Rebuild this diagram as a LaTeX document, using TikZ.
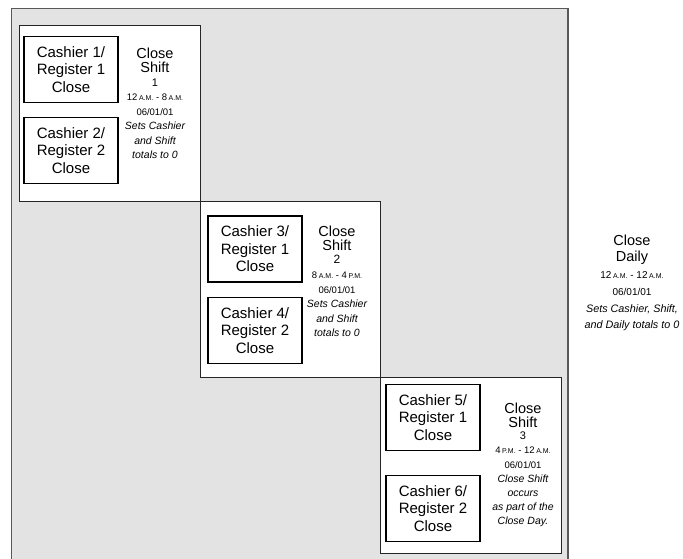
\documentclass[tikz,border=0pt]{standalone}
\usepackage{fontspec}
\setmainfont{Liberation Sans}
\newcommand\amtxt{{\fontsize{7}{7}\selectfont A.M.}}
\newcommand\pmtxt{{\fontsize{7}{7}\selectfont P.M.}}
\newcommand\bigline[1]{{\fontsize{14.5}{15}\selectfont #1}}
\newcommand\numline[1]{{\fontsize{10.5}{13}\selectfont #1}}
\newcommand\itline[1]{{\fontsize{10.5}{14}\selectfont\itshape #1}}
\begin{document}
\begin{tikzpicture}[x=1pt,y=-1pt,
  region/.style={draw=black!65, fill=black!11, line width=1.8pt},
  shiftbox/.style={draw=black!85, fill=white, line width=1pt, inner sep=0pt, anchor=north west},
  cashbox/.style={draw=black, line width=1.3pt, minimum width=94pt, minimum height=66pt, inner sep=0pt,
    align=center, font=\fontsize{15}{17.5}\selectfont},
  info/.style={align=center, inner sep=0pt, anchor=north, font=\fontsize{9.5}{14.5}\selectfont}]
\useasboundingbox (0,0) rectangle (683,559);
\path[region] (11.5,8.5) rectangle (568,570);
\node[shiftbox, minimum width=181pt, minimum height=176pt] (s1) at (19,25) {};
\node[shiftbox, minimum width=180pt, minimum height=176pt] (s2) at (200,201) {};
\node[shiftbox, minimum width=181pt, minimum height=176pt] (s3) at (380,377) {};
\node[cashbox] (c1) at (71,69.5) {Cashier 1/\\Register 1\\Close};
\node[cashbox] (c2) at (71,150.5) {Cashier 2/\\Register 2\\Close};
\node[cashbox] (c3) at (255,249) {Cashier 3/\\Register 1\\Close};
\node[cashbox] (c4) at (255,330.5) {Cashier 4/\\Register 2\\Close};
\node[cashbox] (c5) at (433,417.5) {Cashier 5/\\Register 1\\Close};
\node[cashbox] (c6) at (433,508.5) {Cashier 6/\\Register 2\\Close};
\node[info] (t1) at (155,47.5) {\bigline{Close}\\\bigline{Shift}\\[-1pt]{\fontsize{11}{13}\selectfont 1}\\12\,\amtxt\ -\ 8\,\amtxt\\06/01/01\\
  \itline{Sets Cashier}\\\itline{and Shift}\\\itline{totals to 0}};
\node[info] (t2) at (337,225.5) {\bigline{Close}\\\bigline{Shift}\\[-2pt]{\fontsize{12}{13}\selectfont 2}\\[1pt]8\,\amtxt\ -\ 4\,\pmtxt\\06/01/01\\
  \itline{Sets Cashier}\\\itline{and Shift}\\\itline{totals to 0}};
\node[info, font=\fontsize{9.5}{14.2}\selectfont] (t3) at (523,402.5) {\bigline{Close}\\\bigline{Shift}\\[-2pt]{\fontsize{11}{13}\selectfont 3}\\4\,\pmtxt\ -\ 12\,\amtxt\\06/01/01\\
  \itline{Close Shift}\\\itline{occurs}\\\itline{as part of the}\\\itline{Close Day.}};
\node[info, font=\fontsize{10}{16.7}\selectfont] (td) at (632,234.5) {{\fontsize{14.5}{16}\selectfont Close}\\{\fontsize{14.5}{16}\selectfont Daily}\\12\,\amtxt\ -\ 12\,\amtxt\\06/01/01\\
  {\fontsize{10.8}{16}\selectfont\itshape Sets Cashier, Shift,}\\{\fontsize{10.8}{16}\selectfont\itshape and Daily totals to 0}};
\end{tikzpicture}
\end{document}
